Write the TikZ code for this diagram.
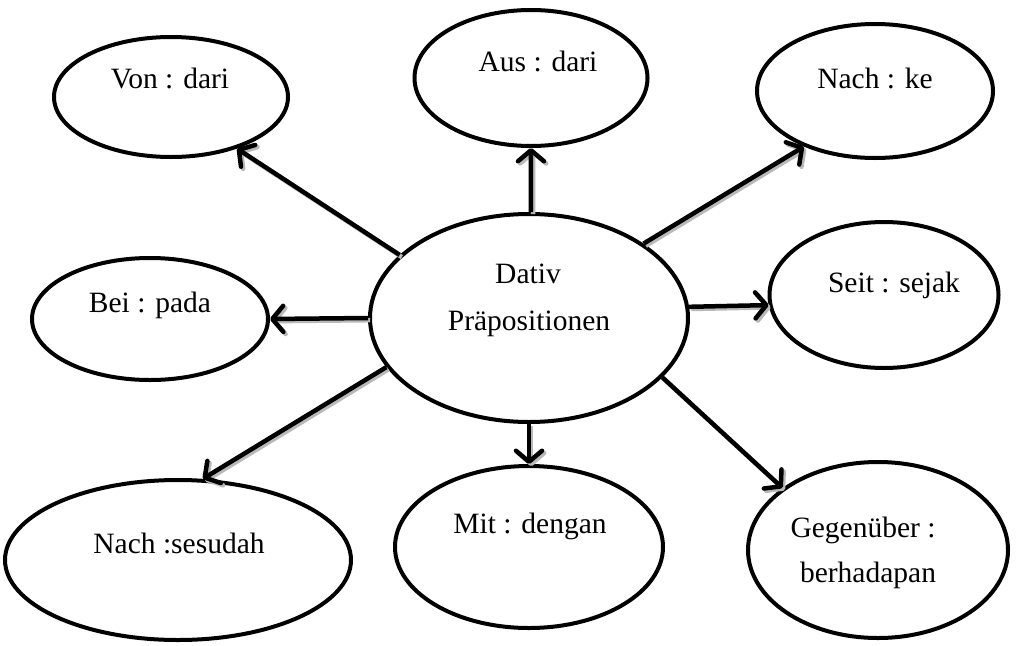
\documentclass[tikz,border=0pt]{standalone}
\usepackage{fontspec}
\setmainfont{Liberation Serif}
\usetikzlibrary{shapes.geometric,arrows.meta}
\begin{document}
\begin{tikzpicture}[x=1pt,y=-1pt,
  bub/.style={draw, line width=4pt, ellipse, inner sep=0pt},
  lbl/.style={anchor=base, inner sep=0pt, font=\fontsize{29.5}{35}\selectfont},
  arr/.style={line width=4.5pt, -{Straight Barb[length=11pt,width=26pt,line cap=round,line join=round]}},
  shd/.style={arr, draw=gray!55, transform canvas={shift={(2.2pt,-2.2pt)}}}]
\useasboundingbox (0,0) rectangle (1019,645);
\node[bub, minimum width=318pt, minimum height=208pt] (c) at (529,318) {};
\node[bub, minimum width=234pt, minimum height=120pt] (von) at (171,97) {};
\node[bub, minimum width=233pt, minimum height=136pt] (aus) at (531,78) {};
\node[bub, minimum width=236pt, minimum height=134pt] (nachke) at (875,91) {};
\node[bub, minimum width=236pt, minimum height=122pt] (bei) at (150,319) {};
\node[bub, minimum width=229pt, minimum height=146pt] (seit) at (884,295) {};
\node[bub, minimum width=346pt, minimum height=160pt] (sesudah) at (178,560) {};
\node[bub, minimum width=268pt, minimum height=162pt] (mit) at (529,547) {};
\node[bub, minimum width=260pt, minimum height=176pt] (gegen) at (878,550) {};
\foreach \a/\t/\b in {154.3/von/-38.9, 89.5/aus/-90, 33.9/nachke/218, 180/bei/0, 4.6/seit/185.5, 199.1/sesudah/73, -90/mit/90, -24.3/gegen/147.1}{
  \draw[shd] (c.\a) -- (\t.\b);
  \draw[arr] (c.\a) -- (\t.\b);
}
\node[lbl] (tvon) at (170,88) {Von : dari};
\node[lbl] (taus) at (538,71) {Aus : dari};
\node[lbl] (tnachke) at (875,88) {Nach : ke};
\node[lbl] (tbei) at (150,312) {Bei : pada};
\node[lbl] (tseit) at (894,292) {Seit : sejak};
\node[lbl] (tc1) at (528,283) {Dativ};
\node[lbl] (tc2) at (529,330) {Präpositionen};
\node[lbl] (tses) at (179,553) {Nach :sesudah};
\node[lbl] (tmit) at (530,533) {Mit : dengan};
\node[lbl] (tg1) at (863,537) {Gegenüber :};
\node[lbl] (tg2) at (868,582) {berhadapan};
\end{tikzpicture}
\end{document}
